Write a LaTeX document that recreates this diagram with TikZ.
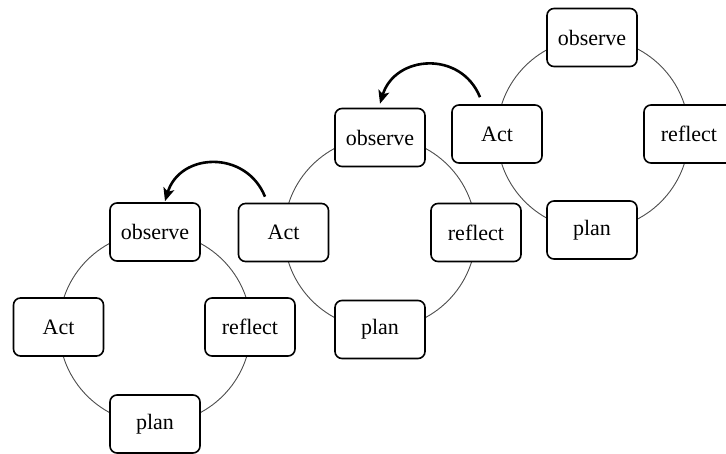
\documentclass[tikz,border=0pt]{standalone}
\usepackage{fontspec}
\setmainfont{Liberation Serif}
\usetikzlibrary{arrows.meta}
\begin{document}
\begin{tikzpicture}[x=1pt,y=1pt,
  stagebox/.style={draw=black, fill=white, line width=1.6pt, rounded corners=7pt,
    minimum width=90pt, minimum height=58pt, inner sep=0pt,
    font=\fontsize{22}{26}\selectfont},
  ring/.style={draw=black!70, line width=0.9pt},
  jump/.style={line width=2.6pt, -{Stealth[length=13pt,width=11pt,inset=3pt]}}]
\useasboundingbox (0,0) rectangle (726,454);
\clip (0,0) rectangle (726,454);

% cycle rings
\draw[ring] (155,126) circle[radius=96];
\draw[ring] (380,221) circle[radius=96];
\draw[ring] (593,320) circle[radius=96];

% first cycle
\node[stagebox] (obs1) at (155,222) {observe};
\node[stagebox] (act1) at (58.5,127) {Act};
\node[stagebox] (ref1) at (250,127) {reflect};
\node[stagebox] (plan1) at (155,30) {plan};

% second cycle
\node[stagebox] (obs2) at (380,316.5) {observe};
\node[stagebox] (act2) at (283.5,221.5) {Act};
\node[stagebox] (ref2) at (476,221.5) {reflect};
\node[stagebox] (plan2) at (380,124.5) {plan};

% third cycle
\node[stagebox] (obs3) at (592,416.5) {observe};
\node[stagebox] (act3) at (497,320) {Act};
\node[stagebox] (ref3) at (689,320) {reflect};
\node[stagebox] (plan3) at (592,224) {plan};

% links from each Act to the next observe
\draw[jump] ([xshift=-18.5pt,yshift=6pt]act2.north)
  to[out=112,in=73,looseness=1.3] ([xshift=10pt,yshift=1pt]obs1.north);
\draw[jump] ([xshift=-17pt,yshift=7pt]act3.north)
  to[out=112,in=73,looseness=1.3] ([xshift=0pt,yshift=4pt]obs2.north);
\end{tikzpicture}
\end{document}
